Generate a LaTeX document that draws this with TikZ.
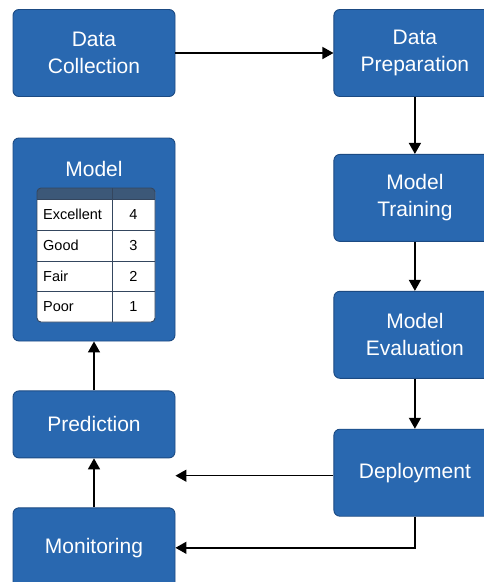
\documentclass[tikz,border=0pt]{standalone}
\usepackage{fontspec}
\setmainfont{Liberation Sans}
\usetikzlibrary{
	arrows.meta,
	positioning,
	calc
}
\definecolor{boxblue}{HTML}{2968B0}
\definecolor{boxedge}{HTML}{1B4A83}
\definecolor{tablehead}{HTML}{3C5878}
\definecolor{tableline}{HTML}{34465E}

\begin{document}
\begin{tikzpicture}[
			x=1pt, y=1pt,
			stage/.style={
				rectangle, draw=boxedge, line width=0.9pt, rounded corners=6pt,
				minimum width=162pt, minimum height=87pt, inner sep=0pt,
				align=center, fill=boxblue, text=white,
				font=\fontsize{21}{27}\selectfont
			},
			title/.style={
				text=white, inner sep=0pt, font=\fontsize{21}{24}\selectfont
			},
			cell/.style={
				anchor=west, inner sep=0pt, text=black,
				font=\fontsize{14.5}{16}\selectfont
			},
			num/.style={
				inner sep=0pt, text=black, font=\fontsize{14.5}{16}\selectfont
			},
			arrow/.style={-{Triangle[length=11pt,width=12pt]}, line width=1.5pt}
			]
			
			\useasboundingbox (0,0) rectangle (484,-582);
			
			% ---------------- right column ----------------
			\node[stage] (collect) at (94,-53) {Data\\Collection};
			\node[stage, right=158pt of collect] (prep) {Data\\Preparation};
			\draw[arrow] (collect) -- (prep);
			
			\node[stage, below=57pt of prep] (train) {Model\\Training};
			\draw[arrow] (prep) -- (train);
			
			\node[stage, below=49pt of train] (evaluate) {Model\\Evaluation};
			\draw[arrow] (train) -- (evaluate);
			
			\node[stage, below=50pt of evaluate] (deploy) {Deployment};
			\draw[arrow] (evaluate) -- (deploy);
			
			% ---------------- model with table ----------------
			\node[stage, minimum height=203pt] (model) at (94,-239.5) {};
			\node[title] (modeltitle) at (94,-169) {Model};
			
			% table body
			\fill[white, rounded corners=4pt] (37,-188) rectangle (155,-322);
			\fill[tablehead] (37,-199) [rounded corners=4pt] -- (37,-188) -- (155,-188) [sharp corners] -- (155,-199) -- cycle;
			\draw[tableline, line width=0.7pt] (37,-199) -- (155,-199);
			\draw[tableline, line width=0.7pt] (37,-230) -- (155,-230);
			\draw[tableline, line width=0.7pt] (37,-261) -- (155,-261);
			\draw[tableline, line width=0.7pt] (37,-291) -- (155,-291);
			\draw[tableline, line width=0.7pt] (112,-188) -- (112,-322);
			\draw[tableline, line width=0.9pt, rounded corners=4pt] (37,-188) rectangle (155,-322);
			
			\node[cell] (excellent) at (43,-214.5) {Excellent};
			\node[num] (four) at (133.5,-214.5) {4};
			\node[cell] (good) at (43,-245.5) {Good};
			\node[num] (three) at (133.5,-245.5) {3};
			\node[cell] (fair) at (43,-276) {Fair};
			\node[num] (two) at (133.5,-276) {2};
			\node[cell] (poor) at (43,-306.5) {Poor};
			\node[num] (one) at (133.5,-306.5) {1};
			
			% ---------------- left column ----------------
			\node[stage, minimum height=67pt, below=49pt of model] (predict) {Prediction};
			\draw[arrow] (predict) -- (model);
			
			\node[stage, minimum height=80pt, below=49pt of predict] (monitor) {Monitoring};
			\draw[arrow] (monitor) -- (predict);
			
			% ---------------- feedback from deployment ----------------
			\coordinate (gapend) at ($(predict.east |- deploy.west) + (0,-3)$);
			\draw[arrow] (deploy.west |- gapend) -- (gapend);
			\draw[arrow] (deploy.south) |- (monitor.east);
		\end{tikzpicture}
\end{document}
